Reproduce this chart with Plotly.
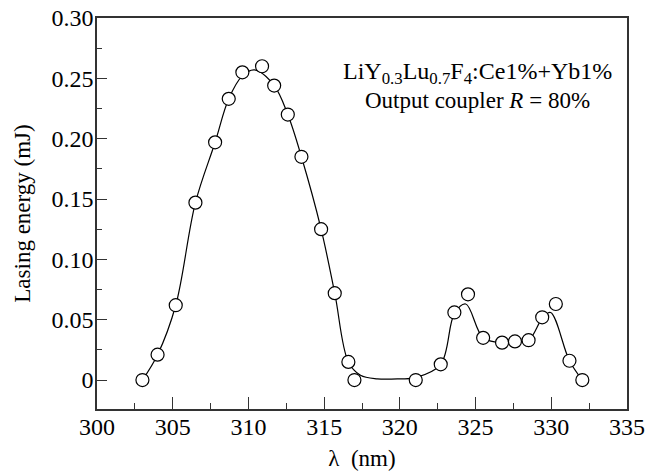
import plotly.graph_objects as go

# measured data points
wavelength = [303.0, 304.0, 305.2, 306.5, 307.8, 308.7, 309.6, 310.9, 311.7, 312.6,
              313.5, 314.8, 315.7, 316.6, 317.0, 321.05, 322.7, 323.6, 324.5, 325.5,
              326.75, 327.6, 328.5, 329.4, 330.3, 331.2, 332.05]
energy = [0.0, 0.021, 0.062, 0.147, 0.197, 0.233, 0.255, 0.260, 0.244, 0.220,
          0.185, 0.125, 0.072, 0.015, 0.0, 0.0, 0.013, 0.056, 0.071, 0.035,
          0.031, 0.032, 0.033, 0.052, 0.063, 0.016, 0.0]

# smooth guide curve
curve_x = [303.0, 304.0, 305.2, 306.5, 307.8, 308.7, 309.6, 310.4, 311.7, 312.6,
           313.5, 314.8, 315.7, 316.6, 317.4, 318.5, 320.0, 321.05, 322.7, 323.6,
           324.35, 325.5, 326.75, 327.6, 328.5, 329.4, 329.95, 331.2, 332.05]
curve_y = [0.0, 0.021, 0.062, 0.147, 0.197, 0.233, 0.252, 0.257, 0.244, 0.220,
           0.185, 0.125, 0.072, 0.015, 0.004, 0.001, 0.001, 0.002, 0.013, 0.055,
           0.063, 0.035, 0.031, 0.032, 0.033, 0.051, 0.056, 0.016, 0.0]

x_ticks = [300, 305, 310, 315, 320, 325, 330, 335]
y_tickvals = [0, 0.05, 0.10, 0.15, 0.20, 0.25, 0.30]
y_ticktext = ["0", "0.05", "0.10", "0.15", "0.20", "0.25", "0.30"]

FONT = "Liberation Serif"
AX = "#333333"

fig = go.Figure()
fig.add_trace(go.Scatter(x=curve_x, y=curve_y, mode="lines",
                         line=dict(color="black", width=1.2, shape="spline", smoothing=1.0),
                         showlegend=False, hoverinfo="skip"))
fig.add_trace(go.Scatter(x=wavelength, y=energy, mode="markers",
                         marker=dict(symbol="circle", size=13, color="white",
                                     line=dict(color="black", width=1.2)),
                         showlegend=False))

fig.update_layout(
    width=650, height=475,
    margin=dict(l=97, r=23, t=18, b=66),
    paper_bgcolor="white", plot_bgcolor="white",
    font=dict(family=FONT, size=23, color="black"),
    xaxis=dict(range=[300, 335], tickvals=x_ticks, ticks="inside", ticklen=12,
               tickwidth=1.2, tickcolor=AX, automargin=False, ticklabelstandoff=-5,
               minor=dict(dtick=2.5, ticks="inside", ticklen=6, tickwidth=1.2, tickcolor=AX),
               showline=True, linecolor=AX, linewidth=1.5, mirror=True,
               showgrid=False, zeroline=False,
               title=dict(text="λ  (nm)", font=dict(family=FONT, size=23), standoff=11),
               tickfont=dict(family=FONT, size=24)),
    yaxis=dict(range=[-0.024, 0.30], tickvals=y_tickvals, ticktext=y_ticktext,
               ticks="inside", ticklen=10, tickwidth=1.2, tickcolor=AX, automargin=False,
               ticklabelstandoff=-3,
               minor=dict(dtick=0.025, ticks="inside", ticklen=5, tickwidth=1.2, tickcolor=AX),
               showline=True, linecolor=AX, linewidth=1.5, mirror=True,
               showgrid=False, zeroline=False,
               title=dict(text="Lasing energy (mJ)", font=dict(family=FONT, size=23), standoff=14),
               tickfont=dict(family=FONT, size=24)),
)

fig.add_annotation(x=325.1, y=0.2546, xref="x", yref="y", showarrow=False,
                   text="LiY<sub>0.3</sub>Lu<sub>0.7</sub>F<sub>4</sub>:Ce1%+Yb1%",
                   font=dict(family=FONT, size=24, color="black"), xanchor="center", yanchor="middle")
fig.add_annotation(x=325.1, y=0.232, xref="x", yref="y", showarrow=False,
                   text="Output coupler <i>R</i> = 80%",
                   font=dict(family=FONT, size=23, color="black"), xanchor="center", yanchor="middle")

fig.write_html("out.html", config={"displayModeBar": False},
               post_script="document.body.style.margin='0';")
